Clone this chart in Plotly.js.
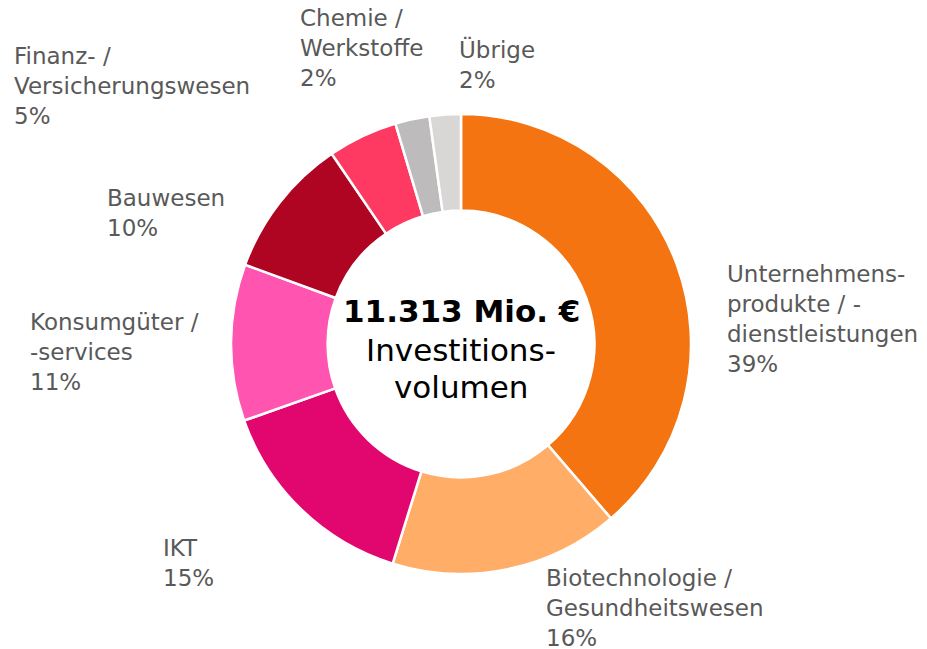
<!DOCTYPE html>
<html>
<head>
<meta charset="utf-8">
<script src="https://cdn.plot.ly/plotly-3.0.1.min.js"></script>
<style>html,body{margin:0;padding:0;background:#fff;}#chart{width:927px;height:649px;}</style>
</head>
<body>
<div id="chart"></div>
<script>
// Data
const categories = ["Unternehmens-<br>produkte / -<br>dienstleistungen", "Biotechnologie /<br>Gesundheitswesen", "IKT", "Konsumgüter /<br>-services", "Bauwesen", "Finanz- /<br>Versicherungswesen", "Chemie /<br>Werkstoffe", "Übrige"];
const shares = [38.7, 16.1, 14.8, 11.0, 9.9, 4.9, 2.4, 2.2];   // percent of investment volume (estimated)
const totalLabel = "11.313 Mio. €";
const captionLines = ["Investitions-", "volumen"];

// Styles
const colors = ["#F37410", "#FFAD67", "#E2066F", "#FF55B0", "#AF0522", "#FF3A62", "#BDBBBB", "#D9D6D6"];
// label anchor points in pixels (left edge, top of first line)
const labelPos = [[727, 266], [546, 570], [163, 540], [30, 314], [107, 190], [14, 48], [300, 10], [459, 41]];

const W = 927, H = 649;
const cx = 461, cy = 344, R = 230;
const FONT = "DejaVu Sans, Verdana, sans-serif";

const annotations = categories.map((c, i) => ({
  text: c + "<br>" + Math.round(shares[i]) + "%",
  x: (labelPos[i][0] - 2) / W,
  y: 1 - (labelPos[i][1] - 7) / H,
  xref: "paper", yref: "paper",
  xanchor: "left", yanchor: "top", align: "left",
  showarrow: false,
  font: {family: FONT, size: 23, color: "#595959"}
}));
const centerLines = ["<b>" + totalLabel + "</b>"].concat(captionLines);
const centerY = [311, 350, 387];
centerLines.forEach((t, i) => annotations.push({
  text: t,
  x: cx / W, y: 1 - centerY[i] / H,
  xref: "paper", yref: "paper",
  xanchor: "center", yanchor: "middle", align: "center",
  showarrow: false,
  font: {family: FONT, size: 31, color: "#000000"}
}));

const trace = {
  type: "pie",
  labels: categories,
  values: shares,
  sort: false,
  direction: "clockwise",
  rotation: 0,
  hole: 0.58,
  textinfo: "none",
  hoverinfo: "none",
  marker: {colors: colors, line: {color: "#ffffff", width: 2.5}},
  domain: {x: [(cx - R) / W, (cx + R) / W], y: [(H - cy - R) / H, (H - cy + R) / H]}
};

Plotly.newPlot("chart", [trace], {
  width: W, height: H,
  margin: {l: 0, r: 0, t: 0, b: 0},
  paper_bgcolor: "#ffffff",
  showlegend: false,
  annotations: annotations
}, {displayModeBar: false, staticPlot: true});
</script>
</body>
</html>
